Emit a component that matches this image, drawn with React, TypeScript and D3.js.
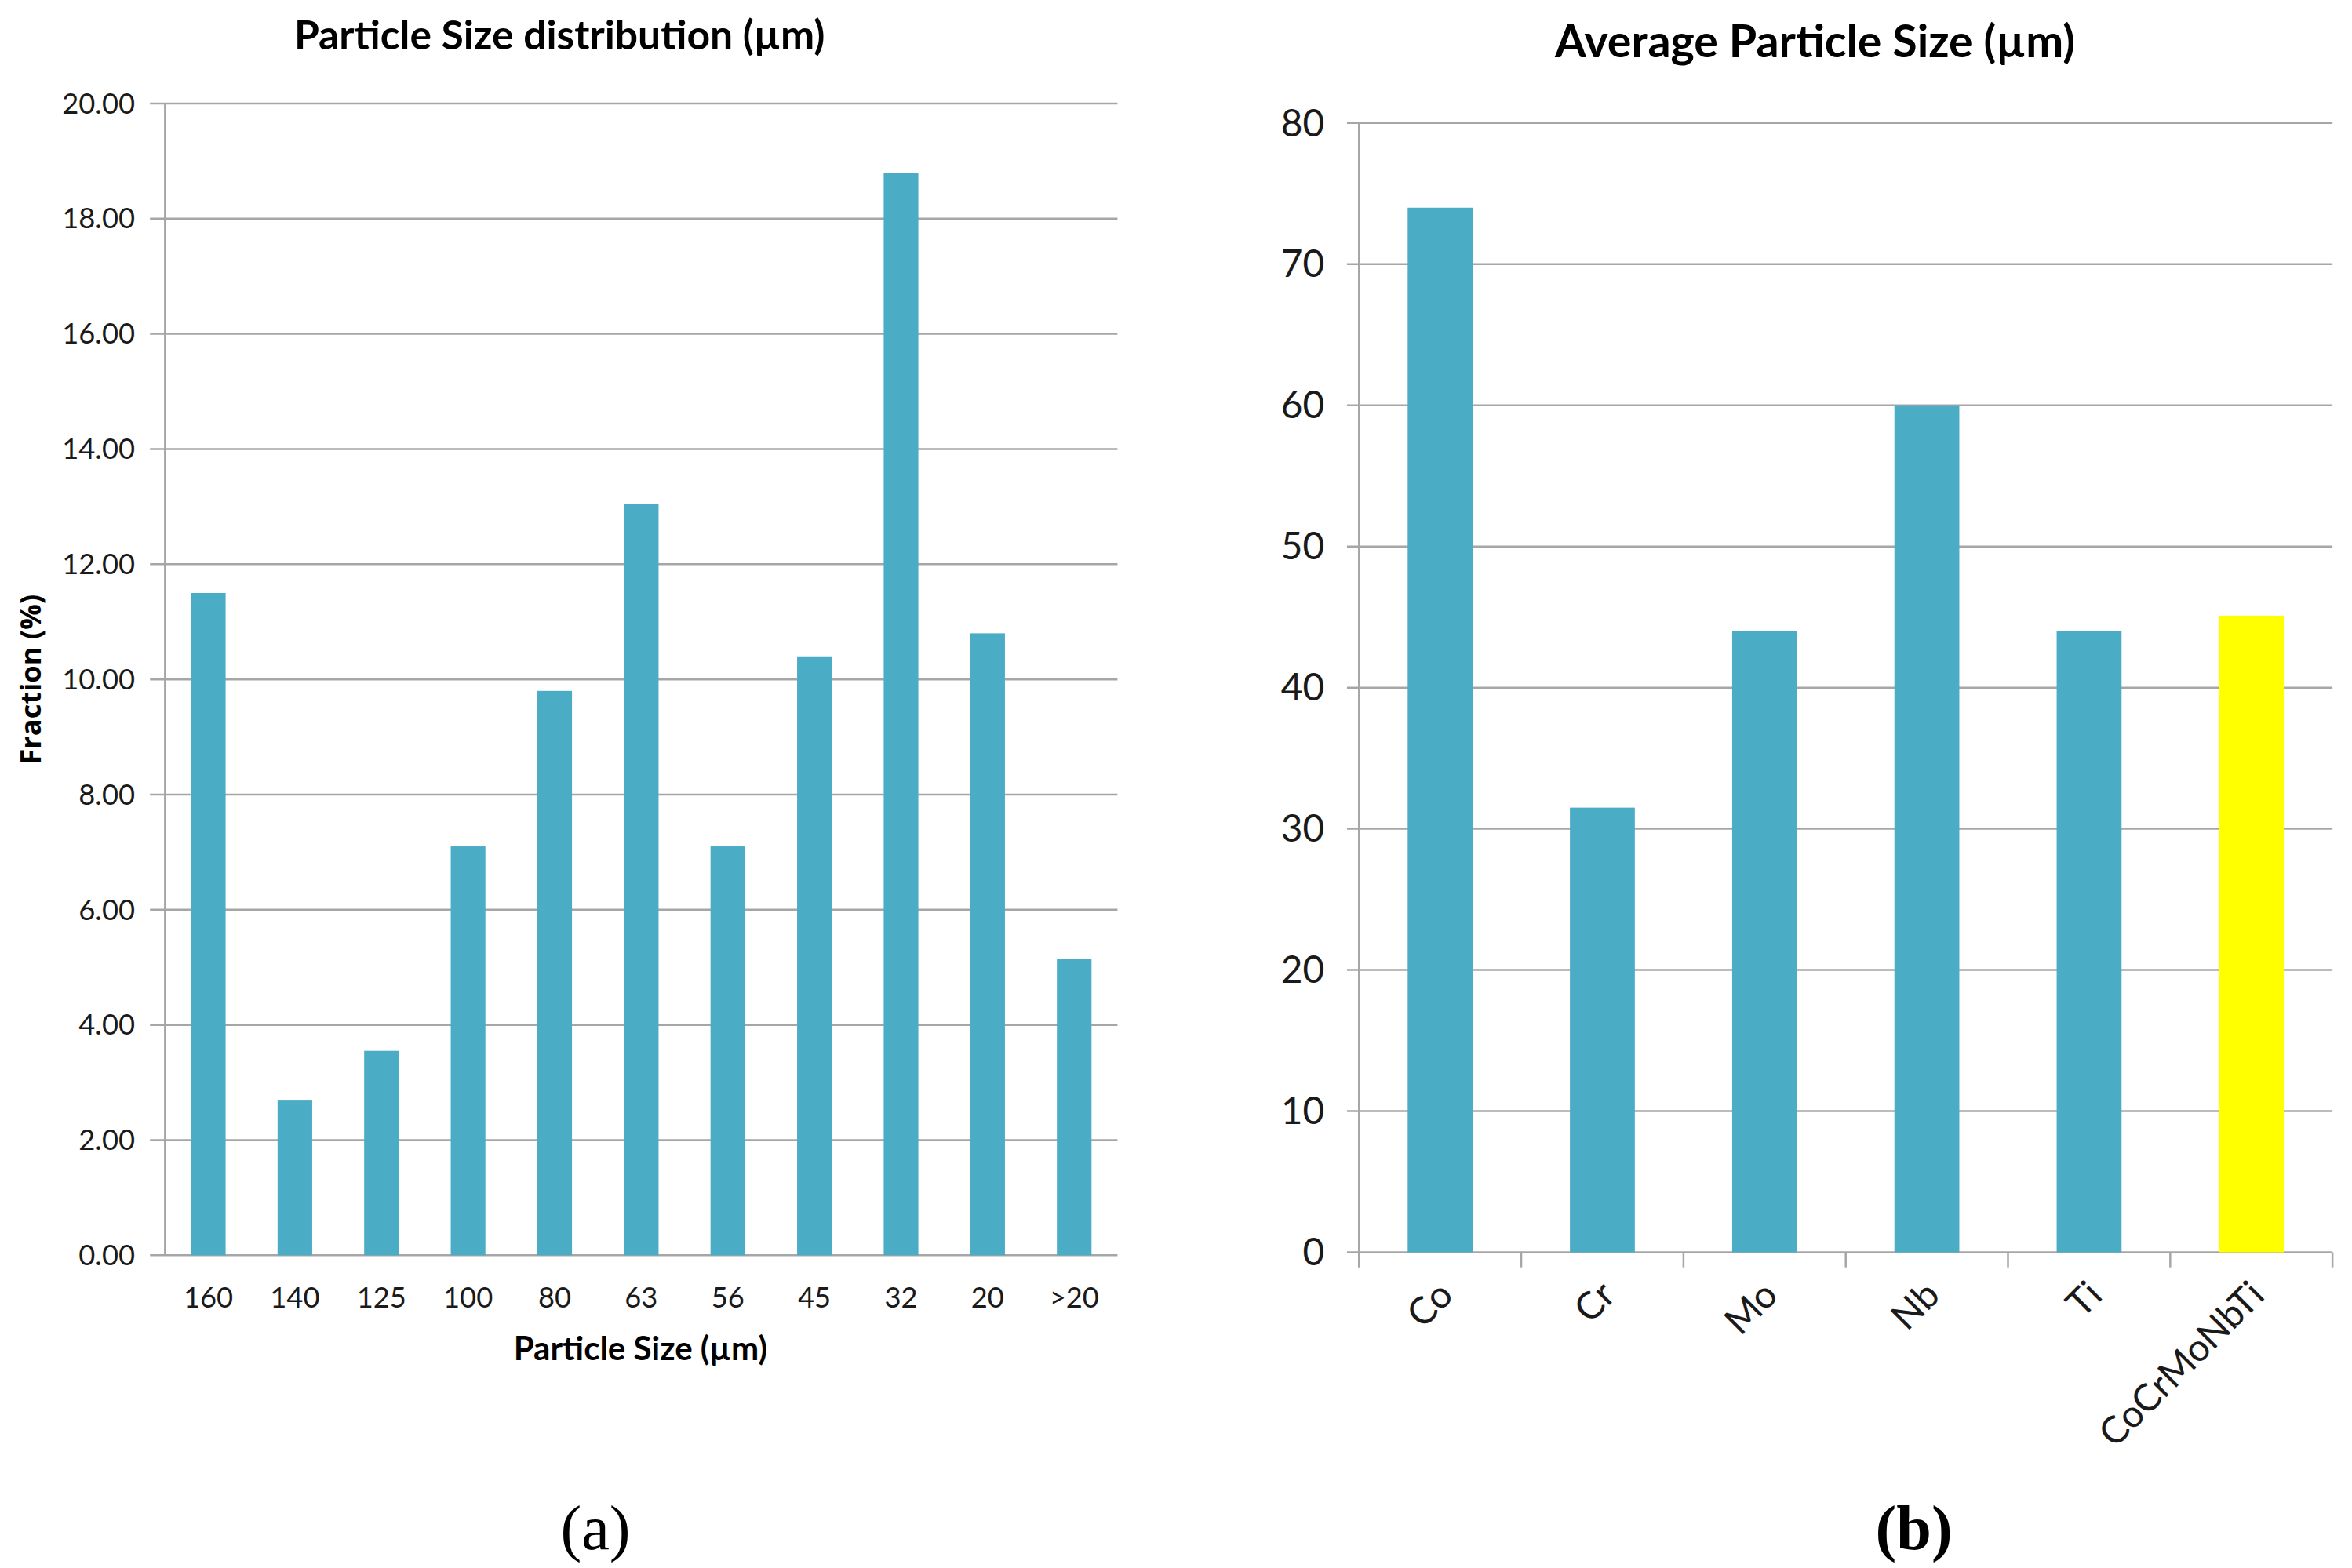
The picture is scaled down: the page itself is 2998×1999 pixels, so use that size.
import React from 'react';
import * as d3 from 'd3';

const sizeBins = ['160', '140', '125', '100', '80', '63', '56', '45', '32', '20', '>20'];
const sizeFractions = [11.5, 2.7, 3.55, 7.1, 9.8, 13.05, 7.1, 10.4, 18.8, 10.8, 5.15];
const fractionTicks = [0, 2, 4, 6, 8, 10, 12, 14, 16, 18, 20];

const powders = ['Co', 'Cr', 'Mo', 'Nb', 'Ti', 'CoCrMoNbTi'];
const avgSizes = [74, 31.5, 44, 60, 44, 45.1];
const avgTicks = [0, 10, 20, 30, 40, 50, 60, 70, 80];

const W = 1568;
const H = 1045.5;
const BAR = '#4BACC6';
const GRID = '#a6a6a6';
const TXT = '#1a1a1a';
const SANS = 'Lato, "Open Sans", sans-serif';
const SERIF = '"Liberation Serif", "DejaVu Serif", serif';

const App: React.FC = () => {
  // left panel
  const xA = d3.scaleBand<string>().domain(sizeBins).range([110, 745]).paddingInner(0.6).paddingOuter(0.3);
  const yA = d3.scaleLinear().domain([0, 20]).range([837, 69]);
  const fmtA = d3.format('.2f');

  // right panel
  const xB = d3.scaleBand<string>().domain(powders).range([906, 1555]).paddingInner(0.6).paddingOuter(0.3);
  const yB = d3.scaleLinear().domain([0, 80]).range([835, 82]);
  const stepB = xB.step();

  return (
    <svg
      width={2998}
      height={1999}
      viewBox={`0 0 ${W} ${H}`}
      style={{ position: 'absolute', left: 0, top: 0, background: '#fff' }}
    >
      <rect x={0} y={0} width={W} height={H} fill="#fff" />

      {/* (a) Particle size distribution */}
      <g>
        <text x={373} y={33} textAnchor="middle" fontFamily={SANS} fontWeight="bold" fontSize={27} fill="#000">
          Particle  Size distribution (µm)
        </text>
        {fractionTicks.map((t) => (
          <g key={t}>
            <line x1={100} x2={745} y1={yA(t)} y2={yA(t)} stroke={GRID} strokeWidth={1.3} />
            <text x={90} y={yA(t)} dy="0.35em" textAnchor="end" fontFamily={SANS} fontSize={19} fill={TXT}>
              {fmtA(t)}
            </text>
          </g>
        ))}
        <line x1={110} x2={110} y1={yA(20)} y2={yA(0)} stroke={GRID} strokeWidth={1.3} />
        {sizeBins.map((b, i) => (
          <g key={b}>
            <rect x={xA(b)} y={yA(sizeFractions[i])} width={xA.bandwidth()} height={yA(0) - yA(sizeFractions[i])} fill={BAR} />
            <text x={(xA(b) as number) + xA.bandwidth() / 2} y={872} textAnchor="middle" fontFamily={SANS} fontSize={19} fill={TXT}>
              {b}
            </text>
          </g>
        ))}
        <text x={427} y={907} textAnchor="middle" fontFamily={SANS} fontWeight="bold" fontSize={22} fill="#000">
          Particle Size (µm)
        </text>
        <text
          transform="translate(27,453) rotate(-90)"
          textAnchor="middle"
          fontFamily={'"Open Sans", sans-serif'}
          fontWeight="bold"
          fontSize={19}
          fill="#000"
        >
          Fraction (%)
        </text>
        <text x={397} y={1033} textAnchor="middle" fontFamily={SERIF} fontSize={42} fill="#000">
          (a)
        </text>
      </g>

      {/* (b) Average particle size */}
      <g>
        <text x={1210} y={38} textAnchor="middle" fontFamily={SANS} fontWeight="bold" fontSize={30} fill="#000">
          Average Particle Size (µm)
        </text>
        {avgTicks.map((t) => (
          <g key={t}>
            <line x1={898} x2={1555} y1={yB(t)} y2={yB(t)} stroke={GRID} strokeWidth={1.3} />
            <text x={883} y={yB(t)} dy="0.35em" textAnchor="end" fontFamily={SANS} fontSize={25} fill={TXT}>
              {t}
            </text>
          </g>
        ))}
        <line x1={906} x2={906} y1={yB(80)} y2={yB(0) + 10} stroke={GRID} strokeWidth={1.3} />
        {powders.map((p) => (
          <line
            key={'tk' + p}
            x1={(xB(p) as number) - stepB * 0.3 + stepB}
            x2={(xB(p) as number) - stepB * 0.3 + stepB}
            y1={yB(0)}
            y2={yB(0) + 10}
            stroke={GRID}
            strokeWidth={1.3}
          />
        ))}
        {powders.map((p, i) => {
          const cx = (xB(p) as number) + xB.bandwidth() / 2;
          return (
            <g key={p}>
              <rect
                x={xB(p)}
                y={yB(avgSizes[i])}
                width={xB.bandwidth()}
                height={yB(0) - yB(avgSizes[i])}
                fill={i === powders.length - 1 ? '#FFFF00' : BAR}
              />
              <text
                transform={`translate(${cx + 10},${yB(0) + 30}) rotate(-45)`}
                textAnchor="end"
                fontFamily={SANS}
                fontSize={25}
                fill={TXT}
              >
                {p}
              </text>
            </g>
          );
        })}
        <text x={1276} y={1033} textAnchor="middle" fontFamily={SERIF} fontWeight="bold" fontSize={42} fill="#000">
          (b)
        </text>
      </g>
    </svg>
  );
};

export default App;
